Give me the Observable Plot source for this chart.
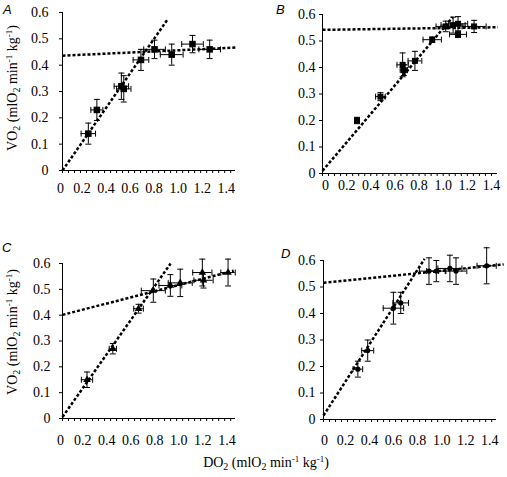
<!DOCTYPE html>
<html><head><meta charset="utf-8">
<script src="https://cdn.jsdelivr.net/npm/d3@7"></script>
<script src="https://cdn.jsdelivr.net/npm/@observablehq/plot@0.6"></script>
<style>
html,body{margin:0;padding:0;background:#fff;}
#fig{position:relative;width:507px;height:477px;background:#fff;color:#000;overflow:hidden;}
#fig svg{position:absolute;overflow:visible;}
#fig svg text{font-family:"Liberation Serif","Times New Roman",serif !important;font-size:14px !important;}
.lab{position:absolute;font-family:"Liberation Sans",Arial,sans-serif;font-style:italic;font-size:13px;line-height:1;}
.ttl{position:absolute;font-family:"Liberation Serif",serif;font-size:14px;line-height:1;white-space:nowrap;}
.ttl sub{font-size:10px;vertical-align:-3px;line-height:0;}
.ttl sup{font-size:9px;vertical-align:5px;line-height:0;}
</style></head>
<body><div id="fig"></div>
<script>
// Tick labels
const xTicks = [0, 0.2, 0.4, 0.6, 0.8, 1.0, 1.2, 1.4];
const xTickLabels = ["0", "0.2", "0.4", "0.6", "0.8", "1.0", "1.2", "1.4"];
const yTicks = [0, 0.1, 0.2, 0.3, 0.4, 0.5, 0.6];
const yTickLabels = ["0", "0.1", "0.2", "0.3", "0.4", "0.5", "0.6"];

// Panel A
const aX = [0.215, 0.286, 0.49, 0.51, 0.653, 0.766, 0.909, 1.082, 1.225];
const aY = [0.14, 0.23, 0.32, 0.31, 0.42, 0.46, 0.44, 0.48, 0.46];
const aXerr = [0.06, 0.05, 0.06, 0.06, 0.065, 0.09, 0.095, 0.09, 0.09];
const aYerr = [0.04, 0.04, 0.05, 0.05, 0.04, 0.035, 0.04, 0.033, 0.035];
const aSteepX = [0, 0.872], aSteepY = [0, 0.572];
const aFlatX = [0, 1.453], aFlatY = [0.436, 0.467];

// Panel B
const bX = [0.286, 0.48, 0.664, 0.674, 0.766, 0.909, 1.021, 1.082, 1.123, 1.123, 1.256];
const bY = [0.20, 0.29, 0.41, 0.39, 0.425, 0.505, 0.555, 0.56, 0.565, 0.525, 0.555];
const bXerr = [0.02, 0.04, 0.047, 0.03, 0.057, 0.076, 0.08, 0.1, 0.08, 0.07, 0.1];
const bYerr = [0.012, 0.015, 0.045, 0.02, 0.036, 0.01, 0.02, 0.03, 0.027, 0.012, 0.023];
const bSteepX = [0, 1.079], bSteepY = [0.01, 0.59];
const bFlatX = [0, 1.453], bFlatY = [0.542, 0.552];

// Panel C
const cX = [0.204, 0.419, 0.633, 0.756, 0.898, 0.98, 1.164, 1.174, 1.378];
const cY = [0.15, 0.27, 0.425, 0.495, 0.515, 0.525, 0.565, 0.535, 0.565];
const cXerr = [0.047, 0.03, 0.04, 0.1, 0.095, 0.1, 0.08, 0.08, 0.06];
const cYerr = [0.03, 0.02, 0.017, 0.045, 0.042, 0.053, 0.052, 0.03, 0.052];
const cSteepX = [0, 0.9], cSteepY = [0.006, 0.60];
const cFlatX = [0, 1.425], cFlatY = [0.401, 0.572];

// Panel D
const dX = [0.286, 0.368, 0.582, 0.643, 0.878, 0.939, 1.052, 1.103, 1.358];
const dY = [0.19, 0.26, 0.42, 0.44, 0.56, 0.56, 0.57, 0.56, 0.58];
const dXerr = [0.04, 0.05, 0.085, 0.065, 0.08, 0.08, 0.1, 0.09, 0.08];
const dYerr = [0.03, 0.04, 0.06, 0.04, 0.05, 0.04, 0.05, 0.05, 0.068];
const dSteepX = [0, 0.841], dSteepY = [0.015, 0.606];
const dFlatX = [0, 1.5], dFlatY = [0.516, 0.585];

const fig = document.getElementById("fig");
const capH = {draw(ctx) { ctx.moveTo(-3, 0); ctx.lineTo(3, 0); }};
const capV = {draw(ctx) { ctx.moveTo(0, -3); ctx.lineTo(0, 3); }};
const fmtX = new Map(xTicks.map((t, i) => [t, xTickLabels[i]]));
const fmtY = new Map(yTicks.map((t, i) => [t, yTickLabels[i]]));
const xMinor = d3.range(0, 1.4001, 0.05);
const dash = {stroke: "#000", strokeWidth: 2.5, strokeDasharray: "3,2", strokeLinecap: "butt"};
const ink = {stroke: "#000", strokeWidth: 1};
const font = {fontFamily: "Liberation Serif", fontSize: 14, fill: "#000"};

function panel(p) {
  const pts = p.x.map((v, i) => ({x: v, y: p.y[i], xe: p.xe[i], ye: p.ye[i]}));
  const steep = p.sx.map((v, i) => ({x: v, y: p.sy[i]}));
  const flat = p.fx.map((v, i) => ({x: v, y: p.fy[i]}));
  const svg = Plot.plot({
    width: p.w, height: p.h,
    marginLeft: p.ml, marginRight: p.mr, marginTop: p.mt, marginBottom: p.mb,
    x: {domain: [0, p.xMax], label: null},
    y: {domain: [0, 0.6], label: null},
    style: "font-family: 'Liberation Serif', serif; font-size: 14px; background: transparent; color: #000; overflow: visible;",
    marks: [
      Plot.axisX({ticks: xMinor, tickSize: 3, tickFormat: () => "", label: null}),
      Plot.axisX({ticks: [0], tickSize: 0, tickPadding: p.xPad, dx: p.zeroDx, tickFormat: d => fmtX.get(d), label: null, ...font}),
      Plot.axisX({ticks: xTicks.slice(1), tickSize: 0, tickPadding: p.xPad, dx: p.xDx, tickFormat: d => fmtX.get(d), label: null, ...font}),
      Plot.axisY({ticks: yTicks, tickSize: 3, tickPadding: p.yPad, tickFormat: d => fmtY.get(d) ?? String(d), label: null, ...font}),
      Plot.ruleX([0], ink),
      Plot.ruleY([0], ink),
      Plot.line(steep, {x: "x", y: "y", ...dash}),
      Plot.line(flat, {x: "x", y: "y", ...dash}),
      Plot.ruleX(pts, {x: "x", y1: d => d.y - d.ye, y2: d => d.y + d.ye, ...ink}),
      Plot.ruleY(pts, {y: "y", x1: d => d.x - d.xe, x2: d => d.x + d.xe, ...ink}),
      Plot.dot(pts, {x: "x", y: d => d.y + d.ye, symbol: capH, fill: "none", ...ink}),
      Plot.dot(pts, {x: "x", y: d => d.y - d.ye, symbol: capH, fill: "none", ...ink}),
      Plot.dot(pts, {x: d => d.x - d.xe, y: "y", symbol: capV, fill: "none", ...ink}),
      Plot.dot(pts, {x: d => d.x + d.xe, y: "y", symbol: capV, fill: "none", ...ink}),
      Plot.dot(pts, {x: "x", y: "y", symbol: p.symbol, r: p.r, fill: "#000", stroke: "none"})
    ]
  });
  svg.style.left = p.left + "px";
  svg.style.top = p.top + "px";
  svg.style.position = "absolute";
  fig.appendChild(svg);
}

panel({x: aX, y: aY, xe: aXerr, ye: aYerr, sx: aSteepX, sy: aSteepY, fx: aFlatX, fy: aFlatY,
  symbol: "square", r: 3.7, xMax: 1.44, w: 250, h: 205, ml: 62, mr: 15, mt: 12, mb: 35,
  xPad: 12.5, zeroDx: -2, xDx: -4.5, yPad: 11, left: 0, top: 0});
panel({x: bX, y: bY, xe: bXerr, ye: bYerr, sx: bSteepX, sy: bSteepY, fx: bFlatX, fy: bFlatY,
  symbol: "square", r: 3.4, xMax: 1.45, w: 257, h: 205, ml: 72, mr: 10, mt: 14, mb: 32,
  xPad: 7, zeroDx: 3, xDx: 0, yPad: 4, left: 250, top: 0});
panel({x: cX, y: cY, xe: cXerr, ye: cYerr, sx: cSteepX, sy: cSteepY, fx: cFlatX, fy: cFlatY,
  symbol: "triangle", r: 2.8, xMax: 1.44, w: 250, h: 230, ml: 62, mr: 15, mt: 23, mb: 52,
  xPad: 16.4, zeroDx: -2, xDx: -3.8, yPad: 9, left: 0, top: 240});
panel({x: dX, y: dY, xe: dXerr, ye: dYerr, sx: dSteepX, sy: dSteepY, fx: dFlatX, fy: dFlatY,
  symbol: "circle", r: 2.6, xMax: 1.44, w: 257, h: 230, ml: 73, mr: 11, mt: 20, mb: 51,
  xPad: 15.7, zeroDx: 1, xDx: -2, yPad: 5, left: 250, top: 240});

function addText(cls, html, css) {
  const el = document.createElement("div");
  el.className = cls;
  el.innerHTML = html;
  Object.assign(el.style, css);
  fig.appendChild(el);
}
addText("lab", "A", {left: "3px", top: "3px"});
addText("lab", "B", {left: "276px", top: "3px"});
addText("lab", "C", {left: "2px", top: "241px"});
addText("lab", "D", {left: "281px", top: "247px"});
const vo2 = "VO<sub>2</sub> (mlO<sub>2</sub> min<sup>-1</sup> kg<sup>-1</sup>)";
const do2 = "DO<sub>2</sub> (mlO<sub>2</sub> min<sup>-1</sup> kg<sup>-1</sup>)";
addText("ttl", vo2, {left: "13px", top: "88px", transform: "translate(-50%,-50%) rotate(-90deg)"});
addText("ttl", vo2, {left: "13px", top: "332px", transform: "translate(-50%,-50%) rotate(-90deg)"});
addText("ttl", do2, {left: "266px", top: "463px", transform: "translate(-50%,-50%)"});
</script>
</body></html>
